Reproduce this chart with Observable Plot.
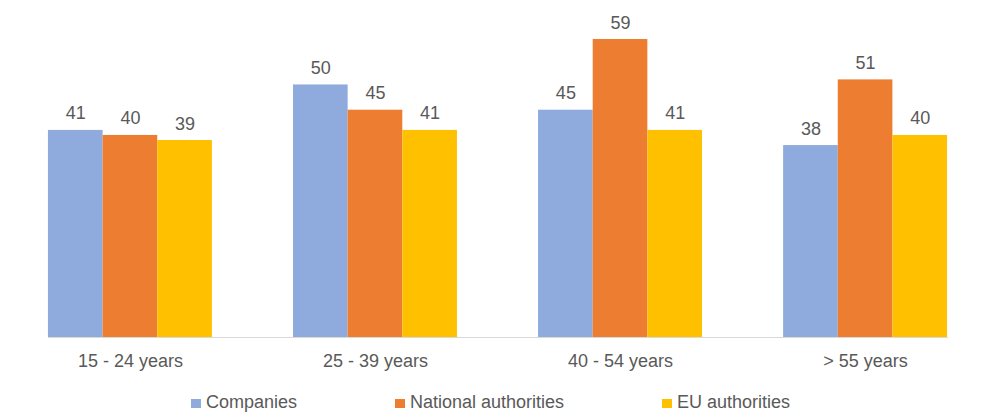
<!DOCTYPE html>
<html>
<head>
<meta charset="utf-8">
<script src="https://cdn.jsdelivr.net/npm/d3@7"></script>
<script src="https://cdn.jsdelivr.net/npm/@observablehq/plot@0.6"></script>
<style>
  html, body { margin: 0; padding: 0; background: #fff; }
  body { width: 981px; height: 412px; overflow: hidden; position: relative; font-family: "Liberation Sans", Arial, sans-serif; }
  #chart { position: absolute; left: 0; top: 0; width: 987px; }
  #chart svg { max-width: none !important; }
  #legend { position: absolute; left: 0; top: 393px; width: 981px; display: flex; justify-content: center; gap: 98px; font-size: 18px; line-height: 18px; color: #595959; }
  #legend .item { display: flex; align-items: baseline; white-space: nowrap; }
  #legend .sw { display: inline-block; width: 10px; height: 9px; margin-right: 5px; }
</style>
</head>
<body>
<div id="chart"></div>
<div id="legend"></div>
<script>
const groups = ["15 - 24 years", "25 - 39 years", "40 - 54 years", "> 55 years"];
const series = ["Companies", "National authorities", "EU authorities"];
const companies = [41, 50, 45, 38];
const national = [40, 45, 59, 51];
const eu = [39, 41, 41, 40];
const colors = ["#8FAADC", "#ED7D31", "#FFC000"];

const values = [companies, national, eu];
const data = [];
groups.forEach((g, i) => series.forEach((s, j) => data.push({group: g, series: s, value: values[j][i]})));

const chart = Plot.plot({
  width: 987,
  height: 385,
  marginLeft: 8,
  marginRight: 0,
  marginTop: 39,
  marginBottom: 48,
  style: {fontFamily: "'Liberation Sans', Arial, sans-serif", fontSize: "18px", color: "#595959", background: "#fff", maxWidth: "none"},
  fx: {domain: groups, paddingInner: 0.331, paddingOuter: 0.163, round: false, label: null},
  x: {domain: series, padding: 0, round: false, axis: null},
  y: {domain: [0, 59], axis: null},
  color: {domain: series, range: colors},
  marks: [
    Plot.barY(data, {fx: "group", x: "series", y: "value", fill: "series"}),
    Plot.text(data, {fx: "group", x: "series", y: "value", text: d => String(d.value), lineAnchor: "bottom", dy: -11, fill: "#595959", fontSize: 18}),
    Plot.frame({anchor: "bottom", facet: "super", stroke: "#D9D9D9", strokeWidth: 1}),
    Plot.axisFx({anchor: "bottom", tickSize: 0, tickPadding: 17, fontSize: 18, fill: "#595959", label: null})
  ]
});
document.getElementById("chart").appendChild(chart);

const legend = document.getElementById("legend");
series.forEach((s, j) => {
  const item = document.createElement("div");
  item.className = "item";
  const sw = document.createElement("span");
  sw.className = "sw";
  sw.style.background = colors[j];
  const t = document.createElement("span");
  t.textContent = s;
  item.appendChild(sw);
  item.appendChild(t);
  legend.appendChild(item);
});
</script>
</body>
</html>
